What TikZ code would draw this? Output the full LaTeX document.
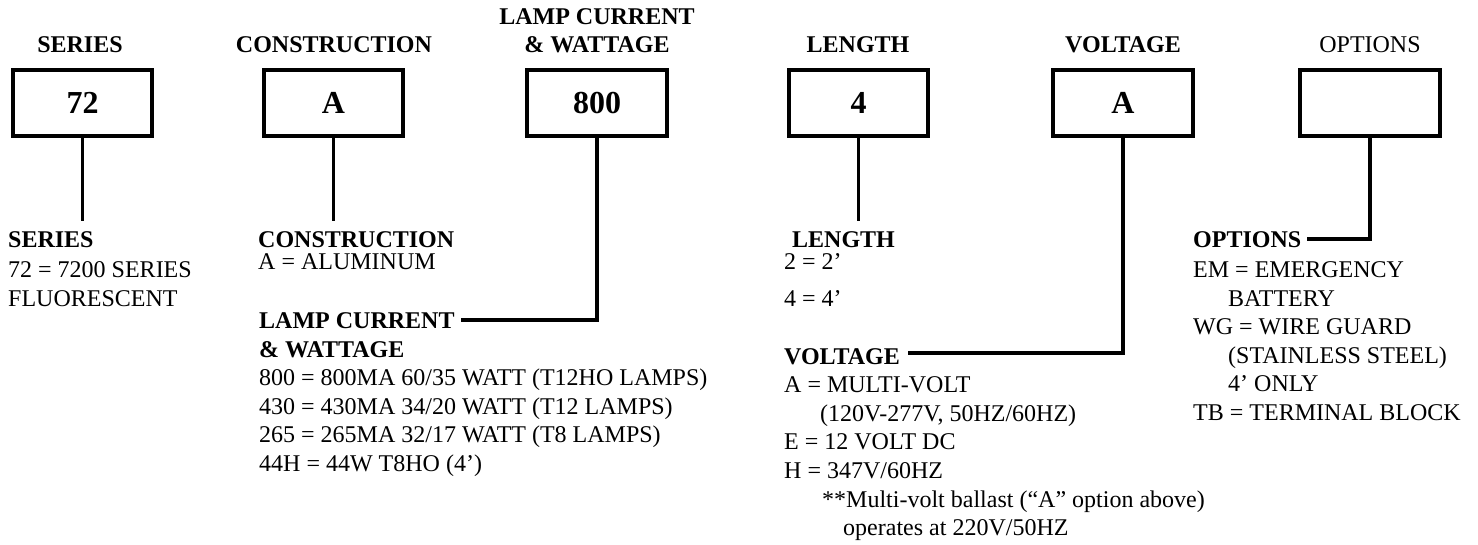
\documentclass[tikz,border=0pt]{standalone}
\usepackage{fontspec}
\setmainfont{Liberation Serif}
\begin{document}
\begin{tikzpicture}[x=1pt,y=-1pt,
  hdr/.style={anchor=base, inner sep=0, font=\fontsize{24}{28}\selectfont\bfseries},
  hdrn/.style={anchor=base, inner sep=0, font=\fontsize{24}{28}\selectfont},
  codebox/.style={draw, line width=3.6pt, minimum width=139.5pt, minimum height=66.5pt, inner sep=0, font=\fontsize{32}{36}\selectfont\bfseries},
  conn/.style={line width=3.3pt},
  ttl/.style={anchor=base west, inner sep=0, font=\fontsize{24}{28}\selectfont\bfseries},
  txt/.style={anchor=base west, inner sep=0, font=\fontsize{24}{28}\selectfont}]
\useasboundingbox (0,0) rectangle (1478,545);

% headers
\node[hdr] (h1) at (80,53) {SERIES};
\node[hdr] (h2) at (334,53) {CONSTRUCTION};
\node[hdr] (h3a) at (597,24.4) {LAMP CURRENT};
\node[hdr] (h3b) at (597,53) {\& WATTAGE};
\node[hdr] (h4) at (858,53) {LENGTH};
\node[hdr] (h5) at (1123,53) {VOLTAGE};
\node[hdrn] (h6) at (1370,53) {OPTIONS};

% boxes
\node[codebox] (b1) at (82.5,103) {72};
\node[codebox] (b2) at (333.5,103) {A};
\node[codebox] (b3) at (597,103) {800};
\node[codebox] (b4) at (858.5,103) {4};
\node[codebox] (b5) at (1123,103) {A};
\node[codebox] (b6) at (1370,103) {};

% series
\node[ttl] (s0) at (8,248) {SERIES};
\node[txt] (s1) at (8,277.5) {72 = 7200 SERIES};
\node[txt] (s2) at (8,306.1) {FLUORESCENT};

% construction
\node[ttl] (c0) at (258,248) {CONSTRUCTION};
\node[txt] (c1) at (258,269.7) {A = ALUMINUM};

% lamp current
\node[ttl] (l0) at (259,328) {LAMP CURRENT};
\node[ttl] (l1) at (259,357) {\& WATTAGE};
\node[txt] (l2) at (259,385.6) {800 = 800MA 60/35 WATT (T12HO LAMPS)};
\node[txt] (l3) at (259,414.2) {430 = 430MA 34/20 WATT (T12 LAMPS)};
\node[txt] (l4) at (259,442.8) {265 = 265MA 32/17 WATT (T8 LAMPS)};
\node[txt] (l5) at (259,471.4) {44H = 44W T8HO (4’)};

% length
\node[ttl] (n0) at (792,248) {LENGTH};
\node[txt] (n1) at (784,269.7) {2 = 2’};
\node[txt] (n2) at (784,306.3) {4 = 4’};

% voltage
\node[ttl] (v0) at (784,364) {VOLTAGE};
\node[txt] (v1) at (784,392.6) {A = MULTI-VOLT};
\node[txt] (v2) at (820,421.2) {(120V-277V, 50HZ/60HZ)};
\node[txt] (v3) at (784,449.8) {E = 12 VOLT DC};
\node[txt] (v4) at (784,478.4) {H = 347V/60HZ};
\node[txt] (v5) at (822,507) {**Multi-volt ballast (“A” option above)};
\node[txt] (v6) at (843,535.6) {operates at 220V/50HZ};

% options
\node[ttl] (o0) at (1193,248) {OPTIONS};
\node[txt] (o1) at (1193,277.5) {EM = EMERGENCY};
\node[txt] (o2) at (1228,306.1) {BATTERY};
\node[txt] (o3) at (1193,334.7) {WG = WIRE GUARD};
\node[txt] (o4) at (1228,363.3) {(STAINLESS STEEL)};
\node[txt] (o5) at (1228,391.9) {4’ ONLY};
\node[txt] (o6) at (1193,420.5) {TB = TERMINAL BLOCK};

% connectors
\coordinate (e1) at (82.5,221);
\coordinate (e2) at (333.5,221);
\coordinate (e3) at (461,320);
\coordinate (e4) at (858.5,221);
\coordinate (e5) at (908,353);
\coordinate (e6) at (1307,239);
\draw[conn] (b1.south) -- (e1);
\draw[conn] (b2.south) -- (e2);
\draw[conn] (b3.south) |- (e3);
\draw[conn] (b4.south) -- (e4);
\draw[conn] (b5.south) |- (e5);
\draw[conn] (b6.south) |- (e6);
\end{tikzpicture}
\end{document}
